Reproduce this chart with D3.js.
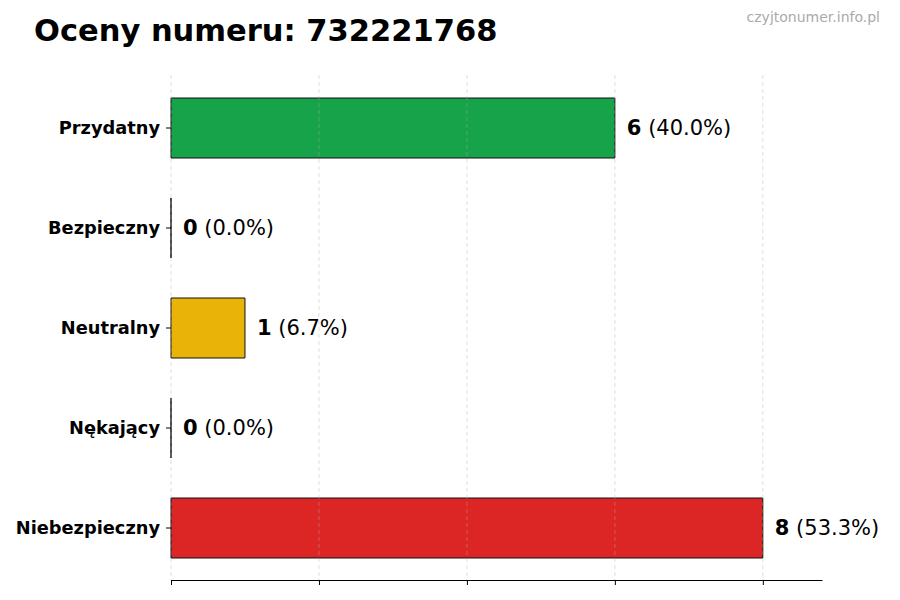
<!DOCTYPE html>
<html>
<head>
<meta charset="utf-8">
<script src="https://cdn.jsdelivr.net/npm/d3@7"></script>
<style>
  body { margin: 0; background: #fff; }
  text { font-family: "DejaVu Sans", sans-serif; }
</style>
</head>
<body>
<div id="chart"></div>
<script>
// Chart data
const categories = ["Przydatny", "Bezpieczny", "Neutralny", "Nękający", "Niebezpieczny"];
const counts = [6, 0, 1, 0, 8];
const percents = ["40.0%", "0.0%", "6.7%", "0.0%", "53.3%"];
const colors = ["#16a34a", "#16a34a", "#eab308", "#dc2626", "#dc2626"];
const xTicks = [0, 2, 4, 6, 8];
const titleText = "Oceny numeru: 732221768";
const watermark = "czyjtonumer.info.pl";

const width = 900, height = 600;
const margin = {top: 75, right: 78, bottom: 20, left: 171};
const plotW = width - margin.left - margin.right;
const plotH = height - margin.top - margin.bottom;

const svg = d3.select("#chart")
    .append("svg")
    .attr("width", width)
    .attr("height", height);

// Title and watermark
svg.append("text")
    .attr("x", 34)
    .attr("y", 41)
    .attr("font-size", 30.5)
    .attr("font-weight", "bold")
    .attr("fill", "#000")
    .text(titleText);

svg.append("text")
    .attr("x", 880)
    .attr("y", 22)
    .attr("text-anchor", "end")
    .attr("font-size", 14)
    .attr("fill", "#aaaaaa")
    .text(watermark);

const g = svg.append("g")
    .attr("transform", "translate(" + margin.left + "," + margin.top + ")");

const x = d3.scaleLinear()
    .domain([0, d3.max(counts) * 1.1])
    .range([0, plotW]);

const y = d3.scaleBand()
    .domain(categories)
    .range([3, plotH - 2])
    .paddingInner(0.4)
    .paddingOuter(0.2);

// Bars as paths so zero-width bars still show their edge
g.selectAll("path.bar")
    .data(categories)
    .enter()
    .append("path")
    .attr("class", "bar")
    .attr("d", (d, i) => {
        const x0 = x(0), x1 = x(counts[i]), y0 = y(d), y1 = y(d) + y.bandwidth();
        return "M" + x0 + "," + y0 + "H" + x1 + "V" + y1 + "H" + x0 + "Z";
    })
    .attr("fill", (d, i) => colors[i])
    .attr("stroke", "#111")
    .attr("stroke-width", 1);

// Grid (drawn on top, faint dashed)
g.selectAll("line.grid")
    .data(xTicks)
    .enter()
    .append("line")
    .attr("class", "grid")
    .attr("x1", d => x(d))
    .attr("x2", d => x(d))
    .attr("y1", 0)
    .attr("y2", plotH)
    .attr("stroke", "#b0b0b0")
    .attr("stroke-opacity", 0.5)
    .attr("stroke-dasharray", "4,3")
    .attr("stroke-width", 0.8);

// Bottom axis, no labels
const xAxis = g.append("g")
    .attr("transform", "translate(0," + plotH + ")")
    .call(d3.axisBottom(x).tickValues(xTicks).tickSize(5).tickFormat("").tickSizeOuter(0));
xAxis.select(".domain").attr("stroke", "#000").attr("stroke-width", 1);
xAxis.selectAll(".tick line").attr("stroke", "#000");

// Left axis: ticks + labels, no spine
const yAxis = g.append("g")
    .call(d3.axisLeft(y).tickSize(5).tickPadding(6).tickSizeOuter(0));
yAxis.select(".domain").remove();
yAxis.selectAll(".tick line").attr("stroke", "#000");
yAxis.selectAll(".tick text")
    .attr("font-family", "DejaVu Sans")
    .attr("font-size", 17.8)
    .attr("font-weight", "bold")
    .attr("fill", "#000");

// Value labels
const labels = g.selectAll("text.value")
    .data(categories)
    .enter()
    .append("text")
    .attr("class", "value")
    .attr("x", (d, i) => x(counts[i]) + 12)
    .attr("y", d => y(d) + y.bandwidth() / 2)
    .attr("dy", "0.35em")
    .attr("font-size", 21)
    .attr("fill", "#000");

labels.append("tspan")
    .attr("font-weight", "bold")
    .text((d, i) => counts[i]);
labels.append("tspan")
    .text((d, i) => " (" + percents[i] + ")");
</script>
</body>
</html>
